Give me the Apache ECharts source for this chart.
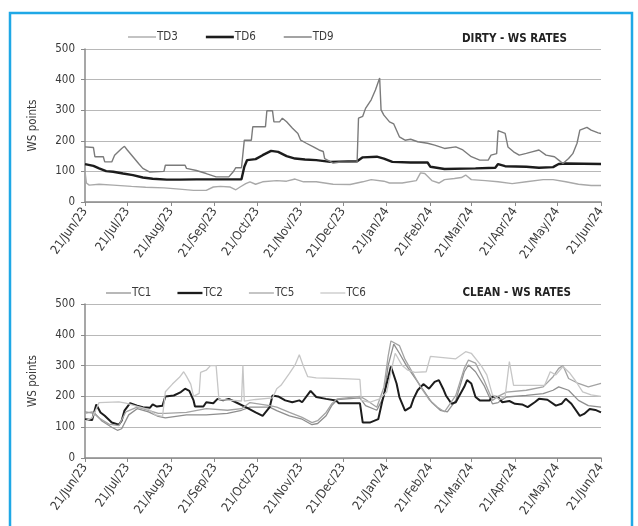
<!DOCTYPE html>
<html><head><meta charset="utf-8">
<script src="https://cdn.jsdelivr.net/npm/echarts@6/dist/echarts.min.js"></script>
<style>html,body{margin:0;padding:0;background:#fff}#c{width:638px;height:526px}</style>
</head><body><div id="c"></div>
<script>
const tickDates = ['2023-06-21','2023-07-21','2023-08-21','2023-09-21','2023-10-21','2023-11-21','2023-12-21','2024-01-21','2024-02-21','2024-03-21','2024-04-21','2024-05-21','2024-06-21'];
const tickLabels = ['21/Jun/23','21/Jul/23','21/Aug/23','21/Sep/23','21/Oct/23','21/Nov/23','21/Dec/23','21/Jan/24','21/Feb/24','21/Mar/24','21/Apr/24','21/May/24','21/Jun/24'];

const td3 = [['2023-06-21',100],['2023-06-22',62],['2023-06-24',55],['2023-07-01',58],['2023-07-11',55],['2023-07-24',51],['2023-08-03',48],['2023-08-16',46],['2023-08-27',42],['2023-09-06',38],['2023-09-15',38],['2023-09-20',49],['2023-09-25',51],['2023-10-02',49],['2023-10-06',40],['2023-10-09',49],['2023-10-13',60],['2023-10-16',66],['2023-10-20',58],['2023-10-25',66],['2023-11-04',70],['2023-11-11',68],['2023-11-17',75],['2023-11-23',66],['2023-12-02',66],['2023-12-14',58],['2023-12-26',57],['2024-01-04',66],['2024-01-10',73],['2024-01-19',68],['2024-01-23',62],['2024-02-01',62],['2024-02-11',70],['2024-02-14',95],['2024-02-17',93],['2024-02-22',70],['2024-02-27',62],['2024-03-02',73],['2024-03-09',77],['2024-03-14',80],['2024-03-17',88],['2024-03-21',73],['2024-03-31',70],['2024-04-09',66],['2024-04-19',60],['2024-04-29',66],['2024-05-11',73],['2024-05-18',73],['2024-05-27',66],['2024-06-05',58],['2024-06-14',54],['2024-06-21',54]];

const td6 = [['2023-06-21',124],['2023-06-27',118],['2023-07-01',110],['2023-07-06',101],['2023-07-11',99],['2023-07-18',93],['2023-07-25',88],['2023-08-01',80],['2023-08-08',76],['2023-08-18',73],['2023-08-27',73],['2023-09-08',74],['2023-09-20',74],['2023-10-02',74],['2023-10-10',74],['2023-10-12',115],['2023-10-14',137],['2023-10-20',140],['2023-10-25',153],['2023-10-31',167],['2023-11-05',164],['2023-11-11',150],['2023-11-17',142],['2023-11-24',139],['2023-12-02',137],['2023-12-12',131],['2023-12-31',133],['2024-01-04',146],['2024-01-14',148],['2024-01-19',142],['2024-01-25',131],['2024-02-07',129],['2024-02-19',129],['2024-02-21',115],['2024-03-02',108],['2024-03-24',110],['2024-04-07',112],['2024-04-09',124],['2024-04-14',117],['2024-04-29',115],['2024-05-08',112],['2024-05-18',114],['2024-05-22',124],['2024-05-27',126],['2024-06-21',124]];

const td9 = [['2023-06-21',180],['2023-06-27',178],['2023-06-28',148],['2023-07-04',148],['2023-07-05',131],['2023-07-10',131],['2023-07-12',153],['2023-07-17',175],['2023-07-19',182],['2023-07-21',170],['2023-07-25',148],['2023-07-29',126],['2023-08-01',110],['2023-08-06',98],['2023-08-16',100],['2023-08-17',120],['2023-08-31',120],['2023-09-01',110],['2023-09-08',103],['2023-09-15',93],['2023-09-22',82],['2023-10-01',82],['2023-10-04',98],['2023-10-06',112],['2023-10-10',112],['2023-10-12',202],['2023-10-17',202],['2023-10-18',246],['2023-10-27',246],['2023-10-28',298],['2023-11-01',298],['2023-11-02',262],['2023-11-06',262],['2023-11-08',274],['2023-11-11',262],['2023-11-15',242],['2023-11-19',224],['2023-11-21',202],['2023-11-25',192],['2023-11-30',180],['2023-12-04',170],['2023-12-07',165],['2023-12-08',142],['2023-12-14',127],['2023-12-18',130],['2023-12-31',131],['2024-01-01',274],['2024-01-04',280],['2024-01-06',306],['2024-01-10',334],['2024-01-13',366],['2024-01-16',405],['2024-01-17',301],['2024-01-19',284],['2024-01-23',262],['2024-01-26',255],['2024-01-30',213],['2024-02-03',202],['2024-02-07',205],['2024-02-12',197],['2024-02-19',192],['2024-02-24',186],['2024-03-02',175],['2024-03-10',180],['2024-03-15',170],['2024-03-21',148],['2024-03-27',137],['2024-04-02',137],['2024-04-04',153],['2024-04-08',158],['2024-04-09',233],['2024-04-14',224],['2024-04-16',180],['2024-04-20',164],['2024-04-24',153],['2024-04-29',159],['2024-05-03',164],['2024-05-08',170],['2024-05-13',153],['2024-05-19',148],['2024-05-22',137],['2024-05-25',126],['2024-05-29',142],['2024-06-01',158],['2024-06-04',192],['2024-06-06',235],['2024-06-11',244],['2024-06-14',235],['2024-06-19',226],['2024-06-21',224]];

const tc1 = [['2023-06-21',150],['2023-06-28',145],['2023-07-03',120],['2023-07-10',100],['2023-07-14',90],['2023-07-17',95],['2023-07-22',140],['2023-07-28',160],['2023-08-05',150],['2023-08-12',135],['2023-08-17',130],['2023-09-01',140],['2023-09-15',140],['2023-09-30',145],['2023-10-10',155],['2023-10-16',165],['2023-10-30',165],['2023-11-04',154],['2023-11-13',137],['2023-11-22',126],['2023-11-29',108],['2023-12-03',112],['2023-12-09',137],['2023-12-13',170],['2023-12-17',190],['2024-01-02',195],['2024-01-06',170],['2024-01-14',155],['2024-01-19',200],['2024-01-22',300],['2024-01-26',370],['2024-01-30',340],['2024-02-04',300],['2024-02-10',260],['2024-02-16',220],['2024-02-22',180],['2024-02-28',155],['2024-03-04',150],['2024-03-10',187],['2024-03-16',280],['2024-03-19',302],['2024-03-24',280],['2024-03-30',236],['2024-04-05',176],['2024-04-09',180],['2024-04-15',198],['2024-04-29',203],['2024-05-11',209],['2024-05-18',220],['2024-05-22',231],['2024-05-29',220],['2024-06-05',187],['2024-06-12',170],['2024-06-21',165]];

const tc2 = [['2023-06-21',126],['2023-06-26',123],['2023-06-29',174],['2023-07-02',148],['2023-07-05',137],['2023-07-10',115],['2023-07-15',108],['2023-07-17',121],['2023-07-19',154],['2023-07-23',178],['2023-07-28',170],['2023-08-01',165],['2023-08-06',163],['2023-08-08',174],['2023-08-11',167],['2023-08-15',170],['2023-08-17',200],['2023-08-23',203],['2023-08-28',214],['2023-08-31',225],['2023-09-03',218],['2023-09-06',187],['2023-09-07',167],['2023-09-13',167],['2023-09-15',181],['2023-09-20',178],['2023-09-23',192],['2023-09-27',187],['2023-10-01',192],['2023-10-06',181],['2023-10-13',165],['2023-10-20',148],['2023-10-25',137],['2023-10-30',165],['2023-11-01',203],['2023-11-05',200],['2023-11-10',187],['2023-11-15',181],['2023-11-20',187],['2023-11-22',181],['2023-11-28',218],['2023-12-02',198],['2023-12-09',192],['2023-12-16',187],['2023-12-18',178],['2024-01-02',178],['2024-01-04',115],['2024-01-09',115],['2024-01-15',126],['2024-01-18',187],['2024-01-22',260],['2024-01-24',297],['2024-01-28',242],['2024-01-30',198],['2024-02-03',154],['2024-02-07',165],['2024-02-09',192],['2024-02-12',220],['2024-02-16',240],['2024-02-20',225],['2024-02-24',247],['2024-02-27',253],['2024-03-01',225],['2024-03-03',203],['2024-03-07',176],['2024-03-10',181],['2024-03-12',198],['2024-03-16',231],['2024-03-18',253],['2024-03-21',242],['2024-03-24',198],['2024-03-27',187],['2024-04-03',187],['2024-04-05',200],['2024-04-09',198],['2024-04-12',181],['2024-04-17',185],['2024-04-21',176],['2024-04-26',174],['2024-04-30',165],['2024-05-05',181],['2024-05-08',192],['2024-05-14',189],['2024-05-20',170],['2024-05-24',176],['2024-05-27',192],['2024-05-31',176],['2024-06-06',137],['2024-06-09',143],['2024-06-13',159],['2024-06-17',156],['2024-06-21',148]];

const tc5 = [['2023-06-21',145],['2023-06-26',150],['2023-07-01',130],['2023-07-08',110],['2023-07-15',105],['2023-07-20',150],['2023-07-28',165],['2023-08-05',155],['2023-08-12',145],['2023-08-17',145],['2023-09-01',148],['2023-09-15',160],['2023-09-30',155],['2023-10-10',160],['2023-10-16',180],['2023-10-30',170],['2023-11-04',165],['2023-11-13',148],['2023-11-22',132],['2023-11-29',115],['2023-12-03',121],['2023-12-09',148],['2023-12-13',176],['2023-12-17',192],['2024-01-02',200],['2024-01-06',190],['2024-01-14',165],['2024-01-19',230],['2024-01-22',330],['2024-01-24',380],['2024-01-30',365],['2024-02-03',320],['2024-02-08',280],['2024-02-14',231],['2024-02-20',190],['2024-02-26',165],['2024-03-02',150],['2024-03-10',203],['2024-03-16',291],['2024-03-19',318],['2024-03-24',308],['2024-03-30',253],['2024-04-05',187],['2024-04-09',200],['2024-04-15',214],['2024-04-29',220],['2024-05-11',231],['2024-05-18',264],['2024-05-22',291],['2024-05-25',300],['2024-05-29',258],['2024-06-05',242],['2024-06-12',231],['2024-06-21',242]];

const tc6 = [['2023-06-21',120],['2023-06-26',130],['2023-07-01',180],['2023-07-15',182],['2023-07-20',178],['2023-07-28',168],['2023-08-05',158],['2023-08-10',140],['2023-08-15',135],['2023-08-17',215],['2023-08-22',240],['2023-08-27',262],['2023-08-30',280],['2023-09-01',265],['2023-09-04',240],['2023-09-06',200],['2023-09-10',210],['2023-09-11',278],['2023-09-15',285],['2023-09-18',300],['2023-09-22',300],['2023-09-24',190],['2023-10-10',185],['2023-10-11',300],['2023-10-12',185],['2023-10-20',190],['2023-11-01',195],['2023-11-04',225],['2023-11-07',236],['2023-11-13',275],['2023-11-17',302],['2023-11-20',335],['2023-11-23',297],['2023-11-26',264],['2023-12-02',260],['2023-12-21',258],['2024-01-02',255],['2024-01-03',187],['2024-01-09',181],['2024-01-16',192],['2024-01-21',214],['2024-01-24',280],['2024-01-27',340],['2024-02-01',300],['2024-02-05',285],['2024-02-10',278],['2024-02-18',280],['2024-02-21',330],['2024-03-10',322],['2024-03-17',345],['2024-03-21',340],['2024-03-28',300],['2024-04-01',270],['2024-04-05',205],['2024-04-10',190],['2024-04-14',200],['2024-04-17',313],['2024-04-20',236],['2024-05-12',236],['2024-05-16',280],['2024-05-20',270],['2024-05-25',297],['2024-05-30',275],['2024-06-03',250],['2024-06-08',215],['2024-06-14',205],['2024-06-21',200]];

const ts = s => { const [y,m,d] = s.split('-').map(Number); return Date.UTC(y,m-1,d); };
const conv = arr => arr.map(p => [ts(p[0]), p[1]]);
const tickVals = tickDates.map(ts);
const labelMap = {}; tickVals.forEach((v,i) => labelMap[v] = tickLabels[i]);

const FONT = "'DejaVu Sans Condensed', 'Liberation Sans Narrow', 'Roboto', sans-serif";
const txt = '#3a3a3a';
const thin = 'path://M0,0h28v1.4h-28z';
const thick = 'path://M0,0h28v2.6h-28z';

function xAxis(gi){
  return {
    type:'value', gridIndex:gi, min:tickVals[0], max:tickVals[tickVals.length-1],
    axisLine:{show:true, lineStyle:{color:'#8a8a8a', width:1.5}},
    axisTick:{show:true, customValues:tickVals, length:4, lineStyle:{color:'#8a8a8a'}},
    axisLabel:{customValues:tickVals, formatter:v => labelMap[v] || '', rotate:55, fontSize:12.5, color:txt, fontFamily:FONT, margin:7},
    splitLine:{show:false}
  };
}
function yAxis(gi){
  return {
    type:'value', gridIndex:gi, min:0, max:500, interval:100,
    name:'WS points', nameLocation:'middle', nameGap:46, nameRotate:90,
    nameTextStyle:{fontSize:11.5, color:txt, fontFamily:FONT},
    axisLine:{show:true, lineStyle:{color:'#8a8a8a', width:1.5}},
    axisTick:{show:true, length:4, lineStyle:{color:'#8a8a8a'}},
    axisLabel:{fontSize:11.5, color:txt, fontFamily:FONT, margin:10},
    splitLine:{show:true, lineStyle:{color:'#b8b8b8', width:1}}
  };
}
function line(name, data, gi, color, width){
  return {name, type:'line', xAxisIndex:gi, yAxisIndex:gi, data:conv(data), symbol:'none',
    lineStyle:{color, width}, itemStyle:{color}, animation:false};
}

const chart = echarts.init(document.getElementById('c'), null, {renderer:'canvas'});
chart.setOption({
  backgroundColor:'#fff',
  animation:false,
  grid:[
    {left:85, right:37, top:49, height:153},
    {left:85, right:37, top:304, height:154}
  ],
  xAxis:[xAxis(0), xAxis(1)],
  yAxis:[yAxis(0), yAxis(1)],
  title:[
    {text:'DIRTY - WS RATES', right:66, top:28, textStyle:{fontSize:11.5, fontWeight:'bold', color:'#222', fontFamily:FONT}},
    {text:'CLEAN - WS RATES', right:62, top:282, textStyle:{fontSize:11.5, fontWeight:'bold', color:'#222', fontFamily:FONT}}
  ],
  legend:[
    {data:[{name:'TD3',icon:thin},{name:'TD6',icon:thick},{name:'TD9',icon:thin}], left:123, top:26, itemWidth:28, itemHeight:10, itemGap:28,
      textStyle:{fontSize:11.5, color:txt, fontFamily:FONT, padding:[0,0,0,-4]}},
    {data:[{name:'TC1',icon:thin},{name:'TC2',icon:thick},{name:'TC5',icon:thin},{name:'TC6',icon:thin}], left:101, top:282, itemWidth:25, itemHeight:10, itemGap:26,
      textStyle:{fontSize:11.5, color:txt, fontFamily:FONT, padding:[0,0,0,-4]}}
  ],
  graphic:[
    {type:'rect', shape:{x:10, y:13, width:622, height:540}, style:{fill:'none', stroke:'#1fa8e6', lineWidth:2.5}, silent:true}
  ],
  series:[
    line('TD3', td3, 0, '#a9a9a9', 1.4),
    line('TD6', td6, 0, '#1c1c1c', 2.4),
    line('TD9', td9, 0, '#7b7b7b', 1.4),
    line('TC1', tc1, 1, '#8e8e8e', 1.3),
    line('TC2', tc2, 1, '#1c1c1c', 2.0),
    line('TC5', tc5, 1, '#a3a3a3', 1.3),
    line('TC6', tc6, 1, '#c6c6c6', 1.3)
  ]
});
</script></body></html>
